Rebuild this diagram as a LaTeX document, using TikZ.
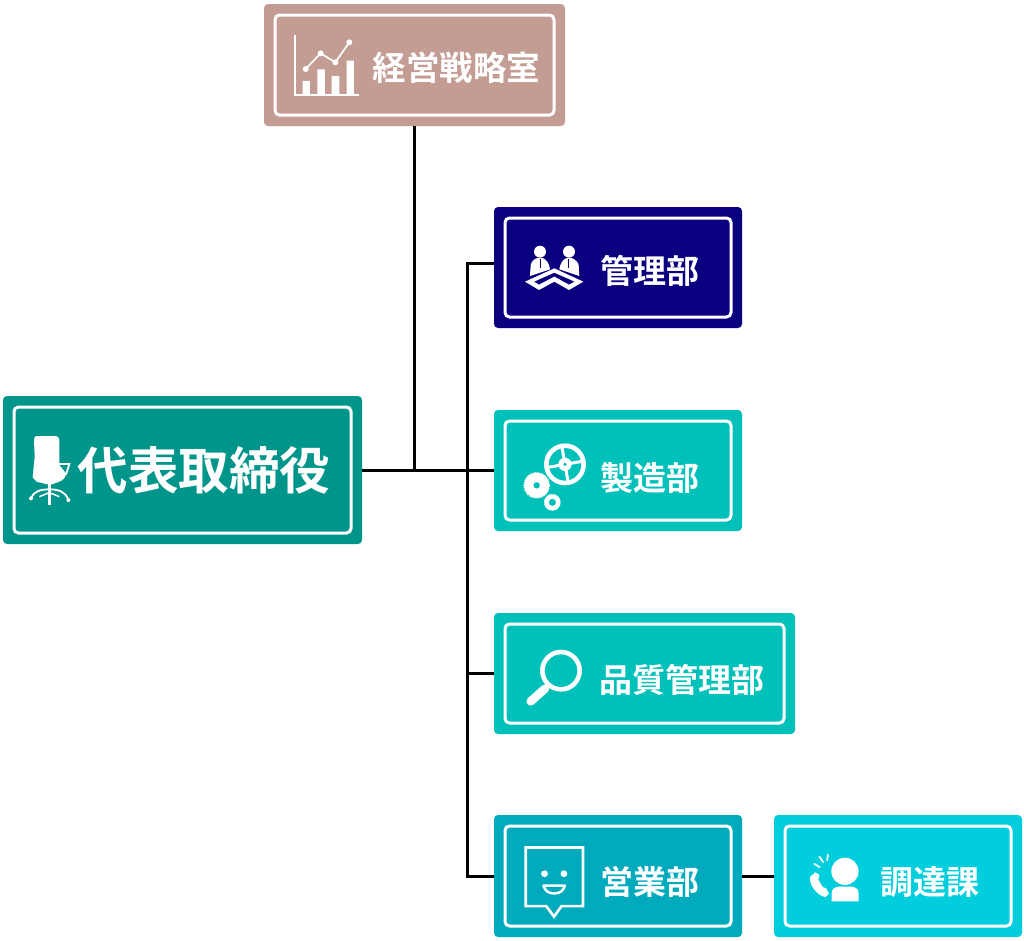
\documentclass[tikz,border=0pt]{standalone}
\usepackage{fontspec}
\setmainfont{Noto Sans CJK JP}[BoldFont={Noto Sans CJK JP Bold}]
\definecolor{cTop}{HTML}{C39C94}
\definecolor{cCeo}{HTML}{00958A}
\definecolor{cNavy}{HTML}{0A007F}
\definecolor{cTeal}{HTML}{00C0BA}
\definecolor{cSales}{HTML}{00AABD}
\definecolor{cProc}{HTML}{00CEDD}
\tikzset{
  outerbox/.style={rectangle,rounded corners=4pt,inner sep=0pt,outer sep=0pt},
  framebox/.style={rectangle,rounded corners=4.5pt,draw=white,line width=3pt,inner sep=0pt,outer sep=0pt},
  label/.style={text=white,font=\bfseries\fontsize{#1}{#1}\selectfont,inner sep=0pt},
  link/.style={draw=black,line width=3pt},
  ic/.style={fill=white,draw=none},
  icl/.style={draw=white,fill=none}
}
\newcommand{\orgbox}[6]{%
  \node[outerbox,fill=#6,minimum width=#4pt,minimum height=#5pt] (#1) at (#2,#3) {};
  \node[framebox,minimum width=#4pt-22pt,minimum height=#5pt-22pt] (#1F) at (#2,#3) {};
}
\begin{document}
\begin{tikzpicture}[x=1pt,y=-1pt]
\useasboundingbox (0,0) rectangle (1024,940);
\fill[white] (0,0) rectangle (1024,940);
% boxes
\orgbox{top}{414.5}{65}{301}{122}{cTop}
\orgbox{ceo}{182.5}{470}{359}{148}{cCeo}
\orgbox{kanri}{618}{267.5}{248}{121}{cNavy}
\orgbox{seizo}{618}{470.5}{248}{121}{cTeal}
\orgbox{hin}{644.5}{673.5}{301}{121}{cTeal}
\orgbox{eigyo}{618}{876}{248}{122}{cSales}
\orgbox{chotatsu}{898}{876}{248}{122}{cProc}
% labels
\node[label=33.5] (tTop) at (456.5,68) {経営戦略室};
\node[label=50.5] (tCeo) at (204,470) {代表取締役};
\node[label=33] (tKanri) at (649.5,271) {管理部};
\node[label=33] (tSeizo) at (649.5,478) {製造部};
\node[label=33] (tHin) at (682,679.5) {品質管理部};
\node[label=33] (tEigyo) at (649.5,882) {営業部};
\node[label=33] (tChotatsu) at (930,882) {調達課};
% connectors
\coordinate (j1) at (414.5,470);
\coordinate (j2) at (467.5,470);
\coordinate (kanriIn) at (kanri.west |- 0,263);
\coordinate (hinIn) at (hin.west |- 0,673);
\coordinate (eigyoIn) at (eigyo.west |- 0,876.5);
\coordinate (eigyoOut) at (eigyo.east |- 0,876.5);
\coordinate (chotatsuIn) at (chotatsu.west |- 0,876.5);
\coordinate (ceoOut) at (ceo.east |- 0,470);
\coordinate (seizoIn) at (seizo.west |- 0,470);
\draw[link] (ceoOut) -- (seizoIn);
\draw[link] (j1) -- (top.south);
\draw[link] (kanriIn) -| (j2) |- (hinIn);
\draw[link] (j2) |- (eigyoIn);
\draw[link] (eigyoOut) -- (chotatsuIn);
% chart icon
\begin{scope}[shift={(260,0)},x=0.3333pt,y=-0.3333pt]
\draw[icl,line width=1.7pt] (105,105) -- (105,285) -- (298,285);
\fill[white] (128,243) rectangle (150,283) (172,208) rectangle (195,283) (215,228) rectangle (238,283) (260,182) rectangle (282,283);
\draw[icl,line width=1.7pt] (137,207) -- (182,160) -- (226,187) -- (268,127);
\fill[white] (137,207) circle[radius=9] (182,160) circle[radius=9] (226,187) circle[radius=9] (268,127) circle[radius=9];
\end{scope}
% chair icon
\begin{scope}[shift={(0,390)},x=0.3333pt,y=-0.3333pt]
\fill[ic] (110,138) -- (168,138) .. controls (176,140) and (178,145) .. (178,155) -- (178,225) -- (198,250) .. controls (198,262) and (190,272) .. (170,278) -- (150,285) -- (110,275) -- (98,262) -- (104,200) -- (102,150) .. controls (102,142) and (105,138) .. (110,138) -- cycle;
\draw[icl,line width=1.8pt] (176,222) -- (208,222) -- (198,254);
\draw[icl,line width=2.6pt] (148,280) -- (148,345);
\draw[icl,line width=1.8pt] (148,298) .. controls (120,298) and (100,305) .. (93,325);
\draw[icl,line width=1.8pt] (148,298) .. controls (175,298) and (198,305) .. (205,330);
\draw[icl,line width=1.5pt] (148,308) -- (118,320);
\draw[icl,line width=1.5pt] (148,308) -- (178,320);
\fill[white] (93,325) circle[radius=6] (205,330) circle[radius=6];
\end{scope}
% meeting icon
\begin{scope}[shift={(490,200)},x=0.3333pt,y=-0.3333pt]
\fill[white] (150,155) circle[radius=18] (237,155) circle[radius=18];
\fill[white] (120,228) -- (122,195) .. controls (125,182) and (135,176) .. (143,174) -- (158,174) .. controls (168,178) and (176,186) .. (180,208) -- cycle;
\fill[white] (208,208) .. controls (212,186) and (220,178) .. (230,174) -- (245,174) .. controls (255,178) and (264,186) .. (266,195) -- (268,228) -- cycle;
\draw[cNavy,line width=0.8pt] (150,176) -- (150,205) (236,176) -- (236,205);
\fill[white,even odd rule] (105,245) -- (193,205) -- (280,245) -- (237,270) -- (193,245) -- (147,270) -- cycle
  (132,245) -- (193,218) -- (254,245) -- (237,254) -- (193,230) -- (147,254) -- cycle;
\end{scope}
% gears icon
\begin{scope}[shift={(490,405)},x=0.3333pt,y=-0.3333pt]
\draw[icl,line width=4.6pt] (225,178) circle[radius=56];
\foreach \a in {80,-10,-100,170}
  \draw[icl,line width=3pt] (225,178) -- ++(\a:52);
\fill[white] (225,178) circle[radius=20];
\fill[cTeal] (225,178) circle[radius=5];
\fill[white,even odd rule] (140,241) circle[radius=38] (140,241) circle[radius=10];
\draw[white,line width=1.3pt,dash pattern=on 1.3pt off 1.3pt] (140,241) circle[radius=38];
\fill[white,even odd rule] (187,292) circle[radius=24] (187,292) circle[radius=11];
\draw[white,line width=1pt,dash pattern=on 1pt off 1pt] (187,292) circle[radius=24];
\end{scope}
% magnifier icon
\begin{scope}[shift={(490,608)},x=0.3333pt,y=-0.3333pt]
\draw[icl,line width=4.6pt] (213,188) circle[radius=56];
\draw[icl,line width=3pt] (180,228) -- (165,242);
\draw[icl,line width=8.5pt,line cap=round] (165,242) -- (122,280);
\end{scope}
% speech bubble icon
\begin{scope}[shift={(490,810)},x=0.3406pt,y=-0.3406pt]
\draw[icl,line width=2.6pt] (165,282) -- (105,282) -- (105,110) -- (273,110) -- (273,282) -- (210,282) -- (188,313) -- cycle;
\fill[white] (160,187) circle[radius=10] (217,187) circle[radius=10];
\draw[icl,line width=2.4pt,line join=round] (157,222) -- (220,222) .. controls (215,238) and (205,245) .. (188,245) .. controls (172,245) and (162,238) .. (157,222) -- cycle;
\end{scope}
% phone person icon
\begin{scope}[shift={(490,810)},x=0.3406pt,y=-0.3406pt]
\fill[white] (1042,180) circle[radius=40];
\fill[white] (1003,268) -- (1003,245) .. controls (1003,232) and (1012,225) .. (1025,225) -- (1060,225) .. controls (1073,225) and (1082,232) .. (1082,245) -- (1082,268) -- cycle;
\fill[white] (955,183) -- (967,190) -- (964,205) -- (977,226) -- (987,230) -- (995,245) -- (985,256) .. controls (958,250) and (933,215) .. (941,195) -- cycle;
\draw[icl,line width=1.7pt,line cap=round] (952,158) -- (968,168) (967,137) -- (978,153) (992,131) -- (990,148);
\end{scope}
\end{tikzpicture}
\end{document}
